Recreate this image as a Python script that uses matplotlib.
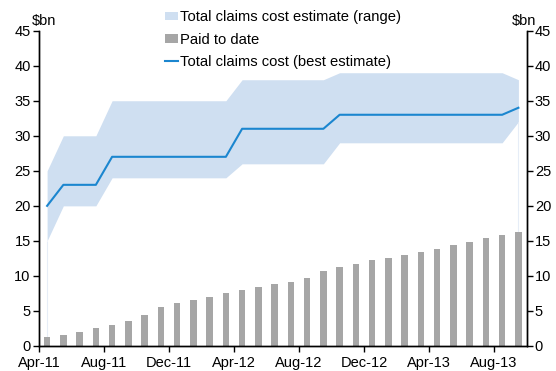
import matplotlib.pyplot as plt
import numpy as np
from matplotlib.patches import Patch
from matplotlib.lines import Line2D

plt.rcParams['font.family'] = ['Liberation Sans', 'DejaVu Sans']

# Meses: Apr-11 .. Sep-13
meses = ['Apr-11', 'May-11', 'Jun-11', 'Jul-11', 'Aug-11', 'Sep-11', 'Oct-11', 'Nov-11',
         'Dec-11', 'Jan-12', 'Feb-12', 'Mar-12', 'Apr-12', 'May-12', 'Jun-12', 'Jul-12',
         'Aug-12', 'Sep-12', 'Oct-12', 'Nov-12', 'Dec-12', 'Jan-13', 'Feb-13', 'Mar-13',
         'Apr-13', 'May-13', 'Jun-13', 'Jul-13', 'Aug-13', 'Sep-13']

pago = [1.33, 1.57, 2.05, 2.52, 2.95, 3.62, 4.48, 5.52, 6.14, 6.62,
        7.05, 7.52, 7.95, 8.42, 8.8, 9.18, 9.7, 10.75, 11.23, 11.66,
        12.32, 12.56, 12.99, 13.37, 13.8, 14.41, 14.89, 15.37, 15.84, 16.27]

melhor = [20, 23, 23, 23, 27, 27, 27, 27, 27, 27, 27, 27, 31, 31, 31,
          31, 31, 31, 33, 33, 33, 33, 33, 33, 33, 33, 33, 33, 33, 34]

faixa_max = [25, 30, 30, 30, 35, 35, 35, 35, 35, 35, 35, 35, 38, 38, 38,
             38, 38, 38, 39, 39, 39, 39, 39, 39, 39, 39, 39, 39, 39, 38]

faixa_min = [15, 20, 20, 20, 24, 24, 24, 24, 24, 24, 24, 24, 26, 26, 26,
             26, 26, 26, 29, 29, 29, 29, 29, 29, 29, 29, 29, 29, 29, 32]

x = np.arange(len(meses))

fig = plt.figure(figsize=(5.56, 3.71), dpi=100)
ax = fig.add_axes([0.0701, 0.0674, 0.8769, 0.8499])

cor_faixa = '#cfdff1'
cor_barra = '#a6a6a6'
cor_linha = '#1b86cf'

ax.fill_between(x, faixa_min, faixa_max, color=cor_faixa, lw=0, zorder=1)
# bordas claras da área empilhada nas extremidades
ax.vlines([x[0]], 0, faixa_min[0], color='#e6edf7', lw=0.8, zorder=1)
ax.vlines([x[-1]], 0, faixa_min[-1], color='#e6edf7', lw=0.8, zorder=1)
ax.bar(x, pago, width=0.4, color=cor_barra, zorder=2)
ax.plot(x, melhor, color=cor_linha, lw=1.5, zorder=3)

ax.set_xlim(-0.5, len(meses) - 0.5)
ax.set_ylim(0, 45)
ax.set_yticks(range(0, 46, 5))

pos_ticks = np.arange(-0.5, len(meses) - 1, 4)
ax.set_xticks(pos_ticks)
ax.set_xticklabels([meses[int(p + 0.5)] for p in pos_ticks])

ax2 = ax.twinx()
ax2.set_ylim(0, 45)
ax2.set_yticks(range(0, 46, 5))

for a in (ax, ax2):
    a.spines['top'].set_visible(False)
    for s in ('left', 'right', 'bottom'):
        a.spines[s].set_linewidth(1.0)
    a.tick_params(axis='both', labelsize=10.5, length=4, width=1.0, pad=2, colors='black')

ax.tick_params(axis='x', pad=3)

fig.text(32 / 556, 1 - 21 / 371, '$bn', fontsize=10.5, va='center', ha='left')
fig.text(536 / 556, 1 - 21 / 371, '$bn', fontsize=10.5, va='center', ha='right')

handles = [Patch(facecolor=cor_faixa, edgecolor='none'),
           Patch(facecolor=cor_barra, edgecolor='none'),
           Line2D([0], [0], color=cor_linha, lw=1.5)]
labels = ['Total claims cost estimate (range)', 'Paid to date',
          'Total claims cost (best estimate)']
fig.legend(handles, labels, loc='upper left', bbox_to_anchor=(165 / 556, 1 - 10 / 371),
           frameon=False, fontsize=10.6, handlelength=0.9, handleheight=0.5,
           handletextpad=0.15, labelspacing=0.58, borderpad=0, borderaxespad=0)

fig.savefig('out.png', dpi=100)
